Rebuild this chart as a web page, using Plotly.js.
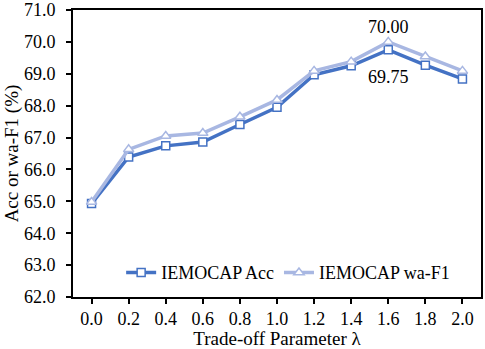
<!DOCTYPE html>
<html>
<head>
<meta charset="utf-8">
<script src="https://cdn.plot.ly/plotly-3.0.1.min.js"></script>
<style>body{margin:0;}#chart{width:485px;height:349px;}</style>
</head>
<body>
<div id="chart"></div>
<script>
const lambdas = [0.0, 0.2, 0.4, 0.6, 0.8, 1.0, 1.2, 1.4, 1.6, 1.8, 2.0];
const tickLabels = ["0.0", "0.2", "0.4", "0.6", "0.8", "1.0", "1.2", "1.4", "1.6", "1.8", "2.0"];
const accValues = [64.93, 66.39, 66.74, 66.86, 67.41, 67.95, 68.97, 69.25, 69.75, 69.27, 68.84];
const f1Values = [64.98, 66.63, 67.05, 67.14, 67.65, 68.18, 69.09, 69.38, 70.00, 69.54, 69.09];

const font = "Liberation Serif, Times New Roman, serif";

const data = [
    {x: lambdas, y: accValues, name: "IEMOCAP Acc", mode: "lines+markers",
     line: {color: "#4472C4", width: 3.5},
     marker: {symbol: "square", size: 8, color: "#ffffff", line: {color: "#4472C4", width: 1.5}}},
    {x: lambdas, y: f1Values, name: "IEMOCAP wa-F1", mode: "lines+markers",
     line: {color: "#A8B7E2", width: 3.5},
     marker: {symbol: "triangle-up", size: 9, color: "#ffffff", line: {color: "#A8B7E2", width: 1.5}}}
];

const layout = {
    width: 485, height: 349,
    margin: {l: 73, r: 4, t: 10, b: 52},
    paper_bgcolor: "#ffffff", plot_bgcolor: "#ffffff",
    font: {family: font, size: 18, color: "#000000"},
    showlegend: true,
    legend: {orientation: "h", x: 0.118, y: 0.02, xanchor: "left", yanchor: "bottom",
             font: {family: font, size: 18}, bgcolor: "rgba(0,0,0,0)", itemwidth: 30},
    xaxis: {range: [-0.1, 2.1], tickvals: lambdas, ticktext: tickLabels,
            showgrid: false, zeroline: false, showline: true, linecolor: "#000", linewidth: 1.5,
            mirror: true, ticks: "outside", ticklen: 5, tickcolor: "#000", tickwidth: 1.5,
            tickfont: {family: font, size: 18},
            title: {text: "Trade-off Parameter \u03bb", font: {family: font, size: 19}, standoff: 8}},
    yaxis: {range: [62, 71], dtick: 1, tickformat: ".1f",
            showgrid: false, zeroline: false, showline: true, linecolor: "#000", linewidth: 1.8,
            mirror: true, ticks: "outside", ticklen: 5, tickcolor: "#000", tickwidth: 1.5,
            ticklabelstandoff: 7, ticklabeloverflow: "allow",
            tickfont: {family: font, size: 18},
            title: {text: "Acc or wa-F1 (%)", font: {family: font, size: 19}, standoff: 0}},
    annotations: [
        {x: lambdas[8], y: f1Values[8], text: f1Values[8].toFixed(2), showarrow: false,
         yshift: 15, font: {family: font, size: 18}},
        {x: lambdas[8], y: accValues[8], text: accValues[8].toFixed(2), showarrow: false,
         yshift: -27, font: {family: font, size: 18}}
    ]
};

Plotly.newPlot("chart", data, layout, {displayModeBar: false});
</script>
</body>
</html>
